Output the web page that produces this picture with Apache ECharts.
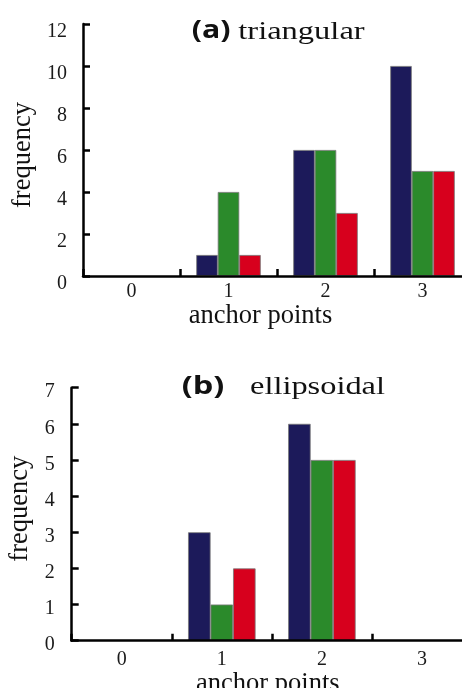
<!DOCTYPE html>
<html><head><meta charset="utf-8">
<script src="https://cdn.jsdelivr.net/npm/echarts@6/dist/echarts.min.js"></script>
<style>html,body{margin:0;padding:0;background:#fff;overflow:hidden}#c{width:462px;height:688px}</style>
</head><body><div id="c"></div>
<script>
// ---- data ----
const categories = ['0', '1', '2', '3'];
// (a) triangular
const triNavy  = [0, 1, 6, 10];
const triGreen = [0, 4, 6, 5];
const triRed   = [0, 1, 3, 5];
const triYMax = 12, triYStep = 2;
// (b) ellipsoidal
const ellNavy  = [0, 3, 6, 0];
const ellGreen = [0, 1, 5, 0];
const ellRed   = [0, 2, 5, 0];
const ellYMax = 7, ellYStep = 1;

const titleA = ['(a)', 'triangular'];
const titleB = ['(b)', 'ellipsoidal'];
const xName = 'anchor points';
const yName = 'frequency';

// ---- style ----
const SERIF = '"Liberation Serif","Times New Roman",serif';
const SANS = '"Open Sans","Noto Sans",sans-serif';
const colors = ['#1c1a5a', '#2b8a2b', '#d7001d'];
const axisLine = { show: true, lineStyle: { color: '#000', width: 2.5 } };
const axisTick = { show: true, inside: true, length: 7, lineStyle: { color: '#000', width: 2.5 } };

function xAx(gi, labelMargin, nameGap, namePad) {
  return {
    type: 'category', gridIndex: gi, data: categories, boundaryGap: true, z: 5,
    axisLine: axisLine,
    axisTick: Object.assign({ alignWithLabel: false, interval: 0 }, axisTick),
    axisLabel: { fontFamily: SERIF, fontSize: 20, color: '#1a1a1a', margin: labelMargin },
    splitLine: { show: false },
    name: xName, nameLocation: 'middle', nameGap: nameGap,
    nameTextStyle: { fontFamily: SERIF, fontSize: 26.5, color: '#111', padding: namePad }
  };
}
function yAx(gi, max, step, labelMargin, labelPadTop, nameGap, namePad) {
  return {
    type: 'value', gridIndex: gi, min: 0, max: max, interval: step, z: 5,
    axisLine: axisLine, axisTick: axisTick,
    axisLabel: {
      margin: labelMargin, formatter: '{t|{value}}',
      rich: { t: { fontFamily: SERIF, fontSize: 20, color: '#1a1a1a', padding: [labelPadTop, 0, 0, 0] } }
    },
    splitLine: { show: false },
    name: yName, nameLocation: 'middle', nameGap: nameGap,
    nameTextStyle: { fontFamily: SERIF, fontSize: 26.5, color: '#111', padding: namePad }
  };
}
function bars(gi, arrs, w) {
  return arrs.map((d, i) => ({
    type: 'bar', xAxisIndex: gi, yAxisIndex: gi,
    data: d.map(v => (v === 0 ? { value: v, itemStyle: { borderWidth: 0 } } : v)),
    barWidth: w, barGap: '0%',
    itemStyle: { color: colors[i], borderColor: '#777', borderWidth: 0.8 },
    emphasis: { disabled: true }, animation: false
  }));
}
function titleGraphic(parts, x1, x2, ySans, ySerif, sansSize, serifSize, sSans, sSerif) {
  return [
    { type: 'text', x: x1, y: ySans, scaleX: sSans,
      style: { text: parts[0], font: 'bold ' + sansSize + 'px ' + SANS, fill: '#111', verticalAlign: 'middle', align: 'left' } },
    { type: 'text', x: x2, y: ySerif, scaleX: sSerif,
      style: { text: parts[1], font: serifSize + 'px ' + SERIF, fill: '#111', verticalAlign: 'middle', align: 'left' } }
  ];
}

const chart = echarts.init(document.getElementById('c'), null, { renderer: 'canvas' });
chart.setOption({
  animation: false,
  backgroundColor: '#fff',
  grid: [
    { left: 83, top: 24, right: -9, height: 252, containLabel: false, outerBoundsMode: 'none' },
    { left: 71.7, top: 387.7, right: -10, height: 253, containLabel: false, outerBoundsMode: 'none' }
  ],
  xAxis: [ xAx(0, 6, 24, [0, 33, 0, 0]), xAx(1, 9, 25, [0, 8, 0, 0]) ],
  yAxis: [ yAx(0, triYMax, triYStep, 16, 15, 44, [0, 10, 0, 0]),
           yAx(1, ellYMax, ellYStep, 17, 9, 35, [0, 0, 0, 11]) ],
  series: [].concat(bars(0, [triNavy, triGreen, triRed], 21.5), bars(1, [ellNavy, ellGreen, ellRed], 22.5)),
  graphic: [].concat(
    titleGraphic(titleA, 191.7, 238.3, 31, 32, 25, 25, 1.21, 1.30),
    titleGraphic(titleB, 181.7, 250, 387, 387, 25, 26, 1.3, 1.246)
  )
});
</script></body></html>
